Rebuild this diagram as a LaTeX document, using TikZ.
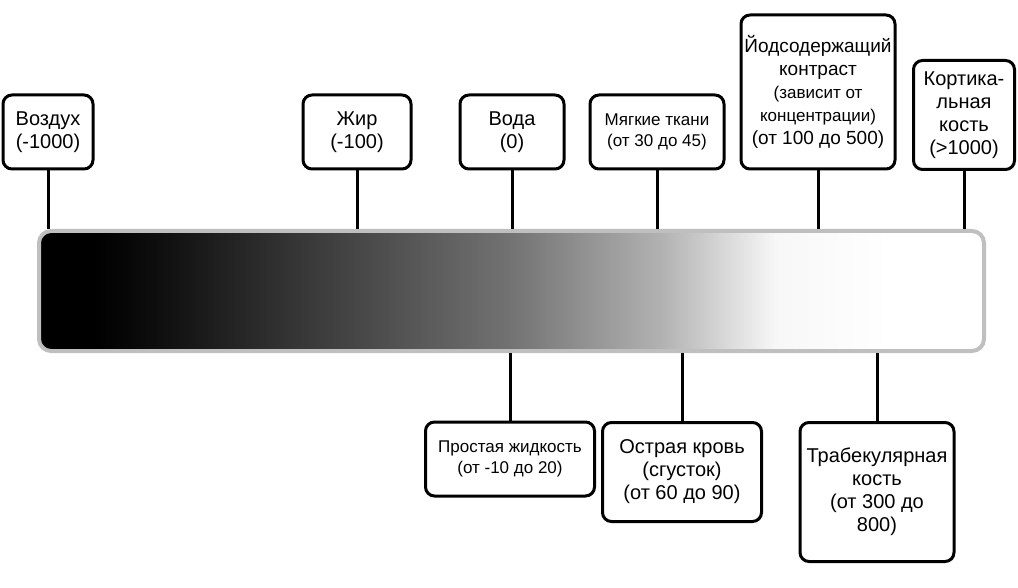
\documentclass[tikz,border=0pt]{standalone}
\usepackage{fontspec}
\setmainfont{Liberation Sans}
\pgfdeclarehorizontalshading{hugrad}{100bp}{color(0bp)=(black); color(28bp)=(black); color(31bp)=(black!95); color(50bp)=(black!55); color(58bp)=(black!30); color(64bp)=(black!3); color(70bp)=(white); color(100bp)=(white)}
\begin{document}
\begin{tikzpicture}[x=1pt, y=-1pt,
    lbl/.style={draw=black, line width=3pt, rounded corners=9pt, fill=white, align=center,
      inner sep=3pt, font=\fontsize{20}{23}\selectfont},
    small/.style={font=\fontsize{17}{21}\selectfont},
    tick/.style={line width=3pt}
]
   \useasboundingbox (0,0) rectangle (1018,588);

   % Scale bar
   \node[draw=black!25, line width=4pt, rounded corners=12pt, shading=hugrad,
     minimum width=945pt, minimum height=120pt, inner sep=0pt] (bar) at (511.5,291) {};

   % Labels above
   \node[lbl, minimum width=90pt, minimum height=74pt] (air) at (48,132) {Воздух\\(-1000)};
   \node[lbl, minimum width=108pt, minimum height=74pt] (fat) at (357,132) {Жир\\(-100)};
   \node[lbl, minimum width=104pt, minimum height=74pt] (water) at (512,132) {Вода\\(0)};
   \node[lbl, small, minimum width=134pt, minimum height=74pt] (soft) at (657,132) {Мягкие ткани\\(от 30 до 45)};
   \node[lbl, minimum width=154pt, minimum height=154pt, font=\fontsize{19}{23}\selectfont] (iod) at (818,92)
     {Йодсодержащий\\контраст\\{\fontsize{17}{21}\selectfont(зависит от}\\{\fontsize{17}{21}\selectfont концентрации)}\\(от 100 до 500)};
   \node[lbl, minimum width=101pt, minimum height=109pt] (cort) at (964,115) {Кортика-\\льная\\кость\\(>1000)};

   % Labels below
   \node[lbl, small, minimum width=169pt, minimum height=74pt] (fluid) at (510,459) {Простая жидкость\\(от -10 до 20)};
   \node[lbl, minimum width=159pt, minimum height=99pt] (blood) at (682,472) {Острая кровь\\(сгусток)\\(от 60 до 90)};
   \node[lbl, minimum width=154pt, minimum height=139pt] (trab) at (877,492) {Трабекулярная\\кость\\(от 300 до\\800)};

   % Ticks
   \foreach \n in {air,fat,water,soft,iod,cort}
     \draw[tick] (\n.south) -- (\n.south |- bar.north);
   \foreach \n in {fluid,blood,trab}
     \draw[tick] (\n.north) -- (\n.north |- bar.south);
\end{tikzpicture}
\end{document}
